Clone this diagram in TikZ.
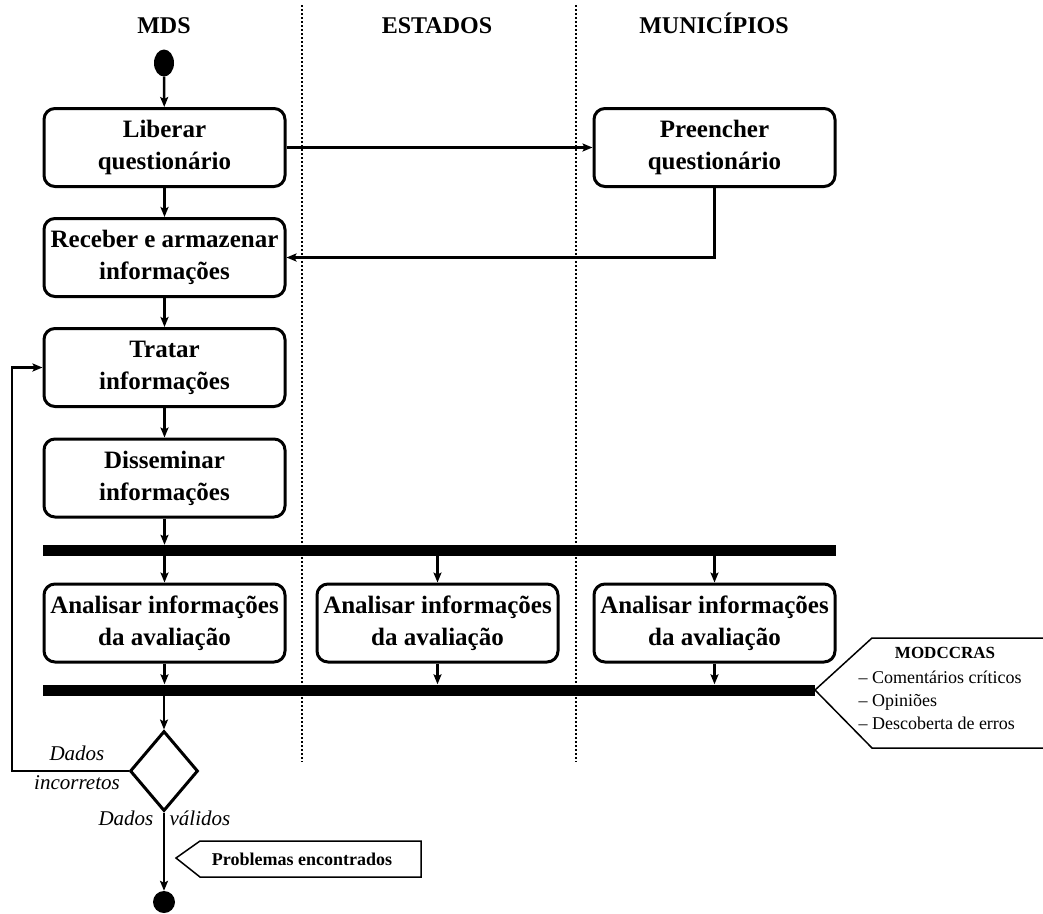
\documentclass[tikz,border=0pt]{standalone}
\usepackage{fontspec}
\setmainfont{Liberation Serif}
\usepackage{tikz}
\usetikzlibrary{arrows,arrows.meta,shapes,shapes.geometric,positioning,calc}

\tikzset{
  acao/.style={draw, line width=3pt, rounded corners=11pt, minimum width=241pt,
    minimum height=78pt, inner sep=2pt, align=center,
    font=\fontsize{25}{32}\selectfont\bfseries},
  barra/.style={fill=black, inner sep=0pt, minimum height=11pt},
  seta/.style={line width=2.5pt, -{Stealth[length=10pt,width=8pt,inset=2pt]}},
  raia/.style={line width=1.6pt, dash pattern=on 2pt off 2pt},
  titulo/.style={font=\fontsize{24}{28}\selectfont\bfseries, anchor=base},
  rotulo/.style={font=\fontsize{21}{24}\selectfont\itshape, anchor=base},
  nota/.style={font=\fontsize{18}{22}\selectfont, anchor=base west}
}

\begin{document}
\begin{tikzpicture}[x=1pt, y=-1pt]
\useasboundingbox (0,0) rectangle (1043,913);
% raias
\draw[raia] (302,5) -- (302,762);
\draw[raia] (576,5) -- (576,762);
\node[titulo] (mds) at (164,33) {MDS};
\node[titulo] (est) at (437,33) {ESTADOS};
\node[titulo] (mun) at (714,33) {MUNICÍPIOS};
% atividades
\node[fill, ellipse, minimum width=20pt, minimum height=27pt, inner sep=0pt] (ini) at (164,63) {};
\node[acao] (lib) at (164.5,147.5) {Liberar\\questionário};
\node[acao] (pre) at (714.5,147.5) {Preencher\\questionário};
\node[acao] (rec) at (164.5,257.5) {Receber e armazenar\\informações};
\node[acao] (tra) at (164.5,367.5) {Tratar\\informações};
\node[acao] (dis) at (164.5,478) {Disseminar\\informações};
\node[barra, minimum width=793pt] (fork) at (439.5,550.5) {};
\node[acao] (an1) at (164.5,623) {Analisar informações\\da avaliação};
\node[acao] (an2) at (437.5,623) {Analisar informações\\da avaliação};
\node[acao] (an3) at (714.5,623) {Analisar informações\\da avaliação};
\node[barra, minimum width=772pt] (join) at (429,690) {};
\node[draw, diamond, line width=3pt, minimum width=68pt, minimum height=80pt, inner sep=0pt] (dec) at (164,771) {};
\node[fill, circle, minimum size=22pt, inner sep=0pt] (fim) at (164,902) {};
\coordinate (volta) at (12,771);
% fluxo
\draw[seta] (ini) -- (lib);
\draw[seta] (lib) -- (pre);
\draw[seta] (pre.south) |- (rec.east);
\draw[seta] (lib) -- (rec);
\draw[seta] (rec) -- (tra);
\draw[seta] (tra) -- (dis);
\draw[seta] (dis.south) -- (dis.south |- fork.north);
\foreach \a in {an1,an2,an3} {
  \draw[seta] (fork.south -| \a) -- (\a.north);
  \draw[seta] (\a.south) -- (\a.south |- join.north);
}
\draw[seta] (join.south -| dec) -- (dec.north);
\draw[seta] (dec.west) -- (volta) |- (tra.west);
\draw[seta] (dec.south) -- (fim.north);
\node[rotulo] (inc1) at (77,760) {Dados};
\node[rotulo] (inc2) at (77,789) {incorretos};
\node[rotulo] (val1) at (126,825) {Dados};
\node[rotulo] (val2) at (200,825) {válidos};
% notas
\draw[line width=1.5pt] (1046,638) -- (872,638) -- (815,690) -- (872,748) -- (1046,748);
\node[font=\fontsize{17}{20}\selectfont\bfseries, anchor=base] (mod) at (945,658) {MODCCRAS};
\node[nota] (n1) at (855,683) {– Comentários críticos};
\node[nota] (n2) at (855,706) {– Opiniões};
\node[nota] (n3) at (855,729) {– Descoberta de erros};
\draw[line width=1.5pt] (176,858) -- (200,841) -- (421,841) -- (421,877) -- (200,877) -- cycle;
\node[font=\fontsize{18}{20}\selectfont\bfseries] (prob) at (302,859) {Problemas encontrados};
\end{tikzpicture}
\end{document}
